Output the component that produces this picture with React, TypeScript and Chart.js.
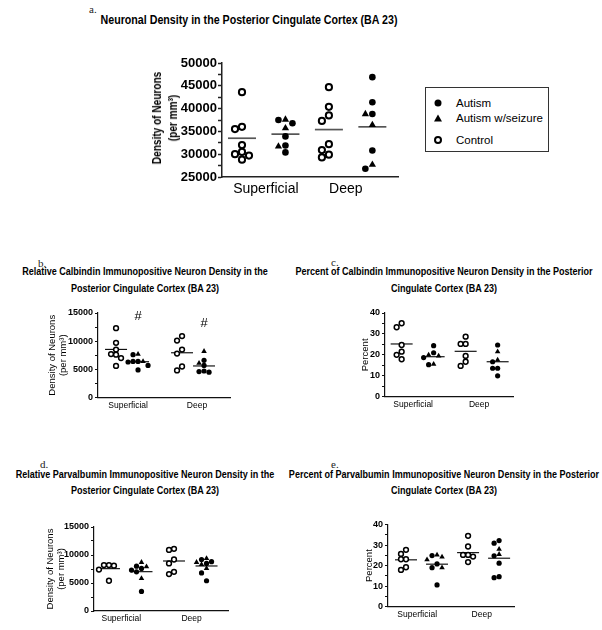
import React, { useEffect, useRef } from "react";
import { Chart, registerables } from "chart.js";

Chart.register(...registerables);

const FONT = '"Liberation Sans", Arial, Helvetica, sans-serif';
const SERIF = '"Liberation Serif", "Times New Roman", serif';

// ---------- shared labels ----------
const groupLabels = ["Superficial", "Deep"];
const legendLabels = ["Autism", "Autism w/seizure", "Control"];
const densityTitle = ["Density of Neurons", "(per mm³)"];
const percentTitle = ["Percent"];

// ---------- panel a ----------
const aTitle = ["Neuronal Density in the Posterior Cingulate Cortex (BA 23)"];
const aControlSup = [43600, 36000, 35500, 32000, 30500, 30000, 29700, 28800];
const aAutismSup = [37500, 36800, 33900, 31900, 30400];
const aSeizureSup = [37600, 35700, 31700];
const aControlDeep = [44700, 40400, 38500, 37300, 32200, 30900, 29900, 29300];
const aAutismDeep = [46900, 41400, 38800, 30800, 26800];
const aSeizureDeep = [38800, 36400, 27700];
const aMeans = [33500, 34400, 35400, 36000];
const aYTicks = [25000, 30000, 35000, 40000, 45000, 50000];

// ---------- panel b ----------
const bTitle = ["Relative Calbindin Immunopositive Neuron Density in the", "Posterior Cingulate Cortex (BA 23)"];
const bControlSup = [12300, 9700, 8500, 7700, 7600, 7000, 5600];
const bAutismSup = [7600, 6400, 6400, 6300, 5700, 4900];
const bSeizureSup = [7700, 6400];
const bControlDeep = [10900, 10100, 8500, 7800, 5500, 4800];
const bAutismDeep = [6600, 5700, 4700, 4600, 4500];
const bSeizureDeep = [8200, 6100];
const bMeans = [8540, 6350, 7940, 5600];
const bYTicks = [0, 5000, 10000, 15000];
const bMarkLabels = ["#", "#"];
const bMarkValues = [14400, 13200];

// ---------- panel c ----------
const cTitle = ["Percent of Calbindin Immunopositive Neuron Density in the Posterior", "Cingulate Cortex (BA 23)"];
const cControlSup = [35.1, 33.2, 24.7, 21.5, 20.0, 17.9];
const cAutismSup = [24.4, 21.0, 18.7, 15.3];
const cSeizureSup = [20.0, 19.5, 15.5];
const cControlDeep = [28.7, 25.2, 25.2, 19.5, 16.7, 14.7];
const cAutismDeep = [24.7, 16.7, 13.6, 13.6, 10.0];
const cSeizureDeep = [21.5, 17.6];
const cMeans = [25.2, 19.1, 21.7, 16.7];
const cYTicks = [0, 10, 20, 30, 40];

// ---------- panel d ----------
const dTitle = ["Relative Parvalbumin Immunopositive Neuron Density in the", "Posterior Cingulate Cortex (BA 23)"];
const dControlSup = [8200, 8200, 8100, 7400, 5400];
const dAutismSup = [8000, 7600, 7300, 7000, 3500];
const dSeizureSup = [8700, 7900, 5800];
const dControlDeep = [11100, 10900, 9200, 8500, 7000, 6600];
const dAutismDeep = [9200, 8800, 8500, 6800, 5400];
const dSeizureDeep = [9400, 8700, 8300, 7600];
const dMeans = [7560, 7020, 8930, 8040];
const dYTicks = [0, 5000, 10000, 15000];

// ---------- panel e ----------
const eTitle = ["Percent of Parvalbumin Immunopositive Neuron Density in the Posterior", "Cingulate Cortex (BA 23)"];
const eControlSup = [27.7, 25.7, 23.1, 23.1, 19.2, 17.9];
const eAutismSup = [24.9, 20.8, 19.0, 10.6];
const eSeizureSup = [25.2, 24.2, 22.9, 19.0];
const eControlDeep = [34.5, 29.3, 25.2, 25.2, 24.4, 21.7];
const eAutismDeep = [32.2, 30.9, 24.8, 21.2, 14.6, 14.1];
const eSeizureDeep = [28.0, 25.5];
const eMeans = [22.8, 20.7, 26.3, 23.6];
const eYTicks = [0, 10, 20, 30, 40];

// ---------- layout (positions / sizes / styles) ----------
type Col = { control?: number[]; autism?: number[]; seizure?: number[] };
type Layout = {
  canvas: { left: number; top: number; width: number; height: number };
  plot: { left: number; top: number; right: number; bottom: number };
  xMin: number; xMax: number; slots: number[]; labelAt: number[];
  yTitlePad: number; yTitleFont: any; tickFont: any; catFont: any; catPad: number;
  tickPad: number; tickLen: number; axisWidth: number; axisColor: string;
  r: { ctrl: number; aut: number; seiz: number }; ctrlBorder: number;
  swarmPx: number; swarmThrPx: number; meanHalf: number; meanWidth: number; meanColor: string;
  htmlYTitle?: { cx: number; cy: number; size: number; lh: number; sx: number };
};

const bigLayout = {
  yTitleFont: { family: FONT, size: 11, weight: "bold", lineHeight: 1.45 },
  tickFont: { family: FONT, size: 13, weight: "bold" },
  catFont: { family: FONT, size: 14 },
  catPad: 4, tickPad: 1, tickLen: 4, axisWidth: 1.5, axisColor: "#222",
  r: { ctrl: 3.1, aut: 3.3, seiz: 4.2 }, ctrlBorder: 2,
  swarmPx: 7, swarmThrPx: 6.5, meanHalf: 14, meanWidth: 1.7, meanColor: "#555",
};
const smallLayout = {
  yTitleFont: { family: FONT, size: 9.5, weight: "normal", lineHeight: 1.2 },
  tickFont: { family: FONT, size: 9, weight: "bold" },
  catFont: { family: FONT, size: 8.5 },
  catPad: 3, tickPad: 2, tickLen: 3, axisWidth: 1.2, axisColor: "#111",
  r: { ctrl: 2.4, aut: 2.6, seiz: 3.2 }, ctrlBorder: 1.5,
  swarmPx: 5, swarmThrPx: 5, meanHalf: 11, meanWidth: 1.1, meanColor: "#000",
};

const layoutA: Layout = {
  ...bigLayout,
  canvas: { left: 145, top: 40, width: 265, height: 170 },
  plot: { left: 222, top: 63, right: 398, bottom: 177 },
  xMin: 0.54, xMax: 4.59, slots: [1, 2, 3, 4], labelAt: [1.55, 3.39], yTitlePad: 4,
  htmlYTitle: { cx: 165, cy: 118, size: 12, lh: 16, sx: 0.84 },
};
const layoutB: Layout = {
  ...smallLayout,
  canvas: { left: 40, top: 300, width: 200, height: 122 },
  plot: { left: 98, top: 313, right: 230, bottom: 397.5 },
  xMin: 0.18, xMax: 6.18, slots: [1, 2, 4, 5], labelAt: [1.55, 4.68], yTitlePad: 6.3,
};
const layoutC: Layout = {
  ...smallLayout,
  canvas: { left: 330, top: 300, width: 195, height: 122 },
  plot: { left: 385, top: 313, right: 513, bottom: 396.7 },
  xMin: 0.48, xMax: 4.48, slots: [1, 2, 3, 4], labelAt: [1.36, 3.42], yTitlePad: 29.6,
};
const layoutD: Layout = {
  ...smallLayout,
  canvas: { left: 40, top: 515, width: 200, height: 115 },
  plot: { left: 94, top: 527, right: 228, bottom: 611 },
  xMin: 0.54, xMax: 4.66, slots: [1, 2, 3, 4], labelAt: [1.38, 3.54], yTitlePad: 4.5,
};
const layoutE: Layout = {
  ...smallLayout,
  canvas: { left: 330, top: 512, width: 195, height: 118 },
  plot: { left: 388, top: 524.5, right: 514, bottom: 606.7 },
  xMin: 0.42, xMax: 4.48, slots: [1, 2, 3, 4], labelAt: [1.36, 3.44], yTitlePad: 33.6,
};

type PanelSpec = {
  columns: Col[]; means: number[]; yTicks: number[]; yTitle: string[]; layout: Layout;
  marks?: { labels: string[]; values: number[]; cols: number[] };
};

const panels: PanelSpec[] = [
  {
    columns: [{ control: aControlSup }, { autism: aAutismSup, seizure: aSeizureSup }, { control: aControlDeep }, { autism: aAutismDeep, seizure: aSeizureDeep }],
    means: aMeans, yTicks: aYTicks, yTitle: densityTitle, layout: layoutA,
  },
  {
    columns: [{ control: bControlSup }, { autism: bAutismSup, seizure: bSeizureSup }, { control: bControlDeep }, { autism: bAutismDeep, seizure: bSeizureDeep }],
    means: bMeans, yTicks: bYTicks, yTitle: densityTitle, layout: layoutB,
    marks: { labels: bMarkLabels, values: bMarkValues, cols: [1, 3] },
  },
  {
    columns: [{ control: cControlSup }, { autism: cAutismSup, seizure: cSeizureSup }, { control: cControlDeep }, { autism: cAutismDeep, seizure: cSeizureDeep }],
    means: cMeans, yTicks: cYTicks, yTitle: percentTitle, layout: layoutC,
  },
  {
    columns: [{ control: dControlSup }, { autism: dAutismSup, seizure: dSeizureSup }, { control: dControlDeep }, { autism: dAutismDeep, seizure: dSeizureDeep }],
    means: dMeans, yTicks: dYTicks, yTitle: densityTitle, layout: layoutD,
  },
  {
    columns: [{ control: eControlSup }, { autism: eAutismSup, seizure: eSeizureSup }, { control: eControlDeep }, { autism: eAutismDeep, seizure: eSeizureDeep }],
    means: eMeans, yTicks: eYTicks, yTitle: percentTitle, layout: layoutE,
  },
];

// ---------- helpers ----------
type Pt = { v: number; k: string };
function swarm(pts: Pt[], thr: number) {
  const order = pts.map((_, i) => i).sort((i, j) => pts[j].v - pts[i].v);
  const placed: { v: number; o: number }[] = [];
  const res: (Pt & { o: number })[] = [];
  for (const idx of order) {
    const p = pts[idx];
    for (const o of [0, -1, 1, -2, 2, -3, 3]) {
      if (!placed.some((q) => q.o === o && Math.abs(q.v - p.v) < thr)) {
        placed.push({ v: p.v, o });
        res.push({ ...p, o });
        break;
      }
    }
  }
  return res;
}

const markPlugin = {
  id: "sigMarks",
  afterDatasetsDraw(chart: any, _args: any, opts: any) {
    if (!opts || !opts.labels) return;
    const { ctx, scales } = chart;
    ctx.save();
    ctx.font = `13px ${FONT}`;
    ctx.fillStyle = "#000";
    ctx.textAlign = "center";
    ctx.textBaseline = "middle";
    opts.labels.forEach((t: string, i: number) => {
      ctx.fillText(t, scales.x.getPixelForValue(opts.xs[i]), scales.y.getPixelForValue(opts.ys[i]));
    });
    ctx.restore();
  },
};

function buildConfig(spec: PanelSpec): any {
  const L = spec.layout;
  const plotW = L.plot.right - L.plot.left;
  const plotH = L.plot.bottom - L.plot.top;
  const yMin = spec.yTicks[0];
  const yMax = spec.yTicks[spec.yTicks.length - 1];
  const unitPx = plotW / (L.xMax - L.xMin);
  const yPerPx = (yMax - yMin) / plotH;
  const ctrl: any[] = [], aut: any[] = [], seiz: any[] = [];
  spec.columns.forEach((col, i) => {
    const pts: Pt[] = [];
    (col.control || []).forEach((v) => pts.push({ v, k: "c" }));
    (col.autism || []).forEach((v) => pts.push({ v, k: "a" }));
    (col.seizure || []).forEach((v) => pts.push({ v, k: "s" }));
    swarm(pts, L.swarmThrPx * yPerPx).forEach((p) => {
      const pt = { x: L.slots[i] + (p.o * L.swarmPx) / unitPx, y: p.v };
      (p.k === "c" ? ctrl : p.k === "a" ? aut : seiz).push(pt);
    });
  });
  const datasets: any[] = [
    { label: legendLabels[2], data: ctrl, pointStyle: "circle", pointRadius: L.r.ctrl, pointBackgroundColor: "#fff", pointBorderColor: "#000", pointBorderWidth: L.ctrlBorder },
    { label: legendLabels[0], data: aut, pointStyle: "circle", pointRadius: L.r.aut, pointBackgroundColor: "#000", pointBorderColor: "#000", pointBorderWidth: 0 },
    { label: legendLabels[1], data: seiz, pointStyle: "triangle", pointRadius: L.r.seiz, pointBackgroundColor: "#000", pointBorderColor: "#000", pointBorderWidth: 0 },
  ];
  const half = L.meanHalf / unitPx;
  spec.means.forEach((m, i) => {
    datasets.push({
      label: "Mean", data: [{ x: L.slots[i] - half, y: m }, { x: L.slots[i] + half, y: m }],
      showLine: true, borderColor: L.meanColor, borderWidth: L.meanWidth, pointRadius: 0,
    });
  });
  datasets.forEach((d) => (d.clip = false));

  const majors = spec.yTicks;
  const step = majors[1] - majors[0];
  const allTicks: number[] = [];
  majors.forEach((m, i) => {
    allTicks.push(m);
    if (i < majors.length - 1) allTicks.push(m + step / 2);
  });

  const yWidth = L.plot.left - L.canvas.left;
  const padTop = L.plot.top - L.canvas.top;
  const padRight = L.canvas.left + L.canvas.width - L.plot.right;
  const xHeight = L.canvas.top + L.canvas.height - L.plot.bottom;

  return {
    type: "scatter",
    data: { datasets },
    options: {
      animation: false,
      responsive: false,
      maintainAspectRatio: false,
      devicePixelRatio: 1,
      events: [],
      layout: { padding: { left: 0, top: padTop, right: padRight, bottom: 0 } },
      plugins: {
        legend: { display: false },
        tooltip: { enabled: false },
        sigMarks: spec.marks
          ? { labels: spec.marks.labels, ys: spec.marks.values, xs: spec.marks.cols.map((c) => L.slots[c]) }
          : {},
      },
      scales: {
        x: {
          type: "linear",
          min: L.xMin,
          max: L.xMax,
          grid: { display: false, drawTicks: false },
          border: { display: true, color: L.axisColor, width: L.axisWidth },
          ticks: {
            autoSkip: false, maxRotation: 0, minRotation: 0, padding: L.catPad,
            font: L.catFont, color: "#000",
            callback: (_v: any, i: number) => groupLabels[i] ?? "",
          },
          afterBuildTicks: (s: any) => { s.ticks = L.labelAt.map((value) => ({ value })); },
          afterFit: (s: any) => { s.height = xHeight; },
        },
        y: {
          type: "linear",
          min: yMin,
          max: yMax,
          grid: { display: true, drawOnChartArea: false, drawTicks: true, tickLength: L.tickLen, color: L.axisColor, tickWidth: L.axisWidth },
          border: { display: true, color: L.axisColor, width: L.axisWidth },
          ticks: {
            autoSkip: false, padding: L.tickPad, font: L.tickFont, color: "#000",
            callback: (v: any) => (majors.includes(v) ? String(v) : ""),
          },
          title: { display: !L.htmlYTitle, text: spec.yTitle, font: L.yTitleFont, color: "#000", padding: { top: L.yTitlePad, bottom: 0 } },
          afterBuildTicks: (s: any) => { s.ticks = allTicks.map((value) => ({ value })); },
          afterFit: (s: any) => { s.width = yWidth; },
        },
      },
    },
    plugins: [markPlugin],
  };
}

function Panel({ spec }: { spec: PanelSpec }) {
  const ref = useRef<HTMLCanvasElement>(null);
  useEffect(() => {
    const chart = new Chart(ref.current as HTMLCanvasElement, buildConfig(spec));
    return () => chart.destroy();
  }, [spec]);
  const c = spec.layout.canvas;
  const t = spec.layout.htmlYTitle;
  return (
    <>
      <canvas
        ref={ref}
        width={c.width}
        height={c.height}
        style={{ position: "absolute", left: c.left, top: c.top, width: c.width, height: c.height }}
      />
      {t && (
        <div
          style={{
            position: "absolute", left: t.cx, top: t.cy,
            transform: `translate(-50%, -50%) rotate(-90deg) scaleX(${t.sx})`,
            whiteSpace: "nowrap", textAlign: "center", fontFamily: FONT, fontWeight: "bold",
            fontSize: t.size, lineHeight: `${t.lh}px`, color: "#000",
          }}
        >
          {spec.yTitle.map((l) => (
            <div key={l}>{l}</div>
          ))}
        </div>
      )}
    </>
  );
}

function Title({ cx, top, lines, size, lh }: { cx: number; top: number; lines: string[]; size: number; lh: number }) {
  return (
    <div
      style={{
        position: "absolute", left: cx, top, transform: "translateX(-50%) scaleX(0.82)",
        whiteSpace: "nowrap", textAlign: "center", fontFamily: FONT, fontWeight: "bold",
        fontSize: size, lineHeight: `${lh}px`, color: "#000",
      }}
    >
      {lines.map((l) => (
        <div key={l}>{l}</div>
      ))}
    </div>
  );
}

function Letter({ left, top, text }: { left: number; top: number; text: string }) {
  return (
    <div style={{ position: "absolute", left, top, fontFamily: SERIF, fontSize: 11, lineHeight: "12px", color: "#222" }}>
      {text}
    </div>
  );
}

function Legend() {
  const box = { left: 425, top: 87, width: 124, height: 65 };
  const rows = [14.7, 30, 52];
  const markers = [
    <div style={{ width: 7, height: 7, borderRadius: "50%", background: "#000" }} />,
    <div style={{ width: 0, height: 0, borderLeft: "4px solid transparent", borderRight: "4px solid transparent", borderBottom: "7px solid #000" }} />,
    <div style={{ width: 8, height: 8, borderRadius: "50%", border: "2.2px solid #000", boxSizing: "border-box", background: "#fff" }} />,
  ];
  return (
    <div style={{ position: "absolute", ...box, border: "1px solid #333", boxSizing: "border-box", background: "#fff" }}>
      {legendLabels.map((lab, i) => (
        <React.Fragment key={lab}>
          <div style={{ position: "absolute", left: 12, top: rows[i], transform: "translate(-50%, -50%)" }}>{markers[i]}</div>
          <div style={{ position: "absolute", left: 30, top: rows[i] - 7, fontFamily: FONT, fontSize: 11.5, lineHeight: "14px", color: "#000", whiteSpace: "nowrap" }}>
            {lab}
          </div>
        </React.Fragment>
      ))}
    </div>
  );
}

export default function App() {
  return (
    <div style={{ position: "absolute", left: 0, top: 0, width: 602, height: 630, background: "#fff", overflow: "hidden" }}>
      <Letter left={89} top={3} text="a." />
      <Title cx={248.5} top={12} lines={aTitle} size={13} lh={16} />
      <Letter left={38} top={257} text="b." />
      <Title cx={145} top={262.5} lines={bTitle} size={11} lh={17} />
      <Letter left={331} top={256} text="c." />
      <Title cx={444} top={262.5} lines={cTitle} size={11} lh={17} />
      <Letter left={40} top={458} text="d." />
      <Title cx={145} top={466} lines={dTitle} size={11} lh={16} />
      <Letter left={331} top={458} text="e." />
      <Title cx={444} top={466} lines={eTitle} size={11} lh={16} />
      {panels.map((p, i) => (
        <Panel key={i} spec={p} />
      ))}
      <Legend />
    </div>
  );
}
